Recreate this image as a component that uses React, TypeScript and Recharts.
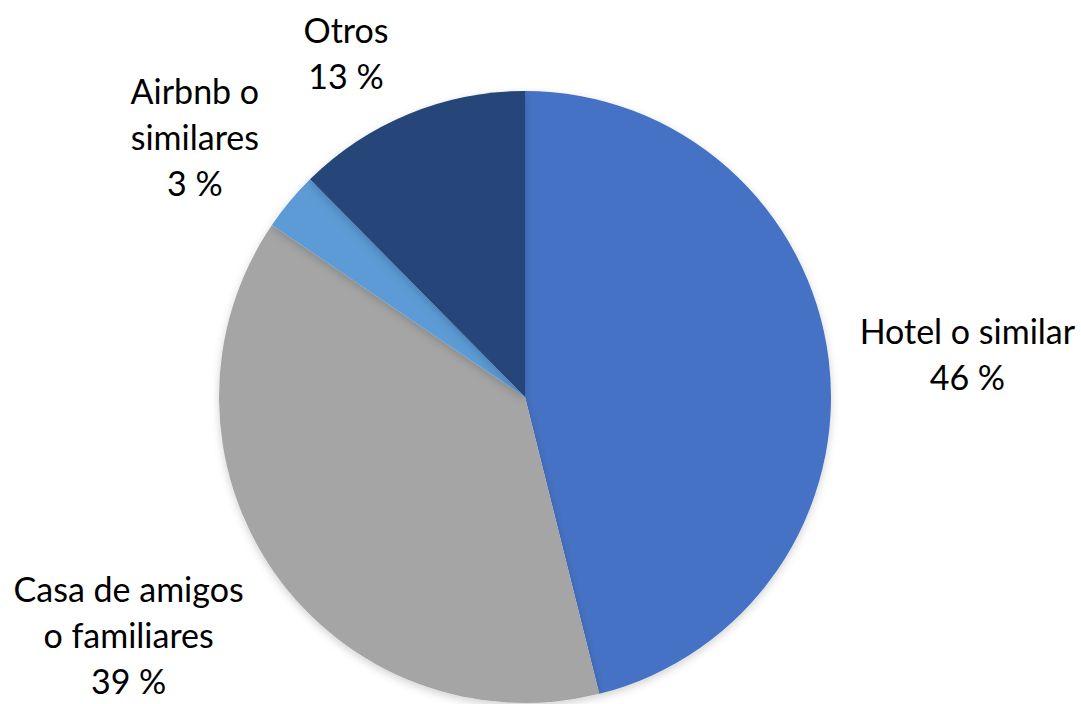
import { Cell, Pie, PieChart } from "recharts";

const categories = ["Hotel o similar", "Casa de amigos o familiares", "Airbnb o similares", "Otros"];
const shares = [46.1, 38.4, 3.1, 12.4];
const pctLabels = ["46 %", "39 %", "3 %", "13 %"];
const labelLines = [
  ["Hotel o similar"],
  ["Casa de amigos", "o familiares"],
  ["Airbnb o", "similares"],
  ["Otros"],
];
const colors = ["#4472C4", "#A5A5A5", "#5B9BD5", "#264478"];

const data = categories.map((name, i) => ({ name, value: shares[i] }));

// label distance from centre (relative to outer radius) and small nudges, per slice
const labelPlace = [
  { k: 1.45, dx: 2, dy: 10 },
  { k: 1.5, dx: -20, dy: -26 },
  { k: 1.34, dx: -15, dy: 1 },
  { k: 1.17, dx: -43, dy: -14 },
];

const RAD = Math.PI / 180;

function renderLabel(props: any) {
  const { cx, cy, midAngle, outerRadius, index } = props;
  const p = labelPlace[index];
  const r = outerRadius * p.k;
  const x = cx + r * Math.cos(-midAngle * RAD) + p.dx;
  const y = cy + r * Math.sin(-midAngle * RAD) + p.dy;
  const lines = [...labelLines[index], pctLabels[index]];
  const lh = 46;
  const top = y - ((lines.length - 1) * lh) / 2;
  return (
    <text
      key={index}
      x={x}
      y={top}
      textAnchor="middle"
      dominantBaseline="central"
      fill="#000"
      fontSize={34}
      fontFamily="Lato, 'Open Sans', sans-serif"
    >
      {lines.map((t, j) => (
        <tspan key={j} x={x} y={top + j * lh}>
          {t}
        </tspan>
      ))}
    </text>
  );
}

export default function App() {
  return (
    <div style={{ position: "absolute", left: 0, top: 0, background: "#fff" }}>
      <PieChart width={1081} height={704}>
        <defs>
          <filter id="sh" x="-10%" y="-10%" width="120%" height="120%">
            <feDropShadow dx="0" dy="3" stdDeviation="4" floodColor="#000" floodOpacity="0.18" />
          </filter>
        </defs>
        <Pie
          data={data}
          dataKey="value"
          nameKey="name"
          cx={520}
          cy={392}
          outerRadius={306}
          startAngle={90}
          endAngle={-270}
          stroke="none"
          label={renderLabel}
          labelLine={false}
          isAnimationActive={false}
          style={{ filter: "url(#sh)" }}
        >
          {data.map((d, i) => (
            <Cell key={d.name} fill={colors[i]} />
          ))}
        </Pie>
      </PieChart>
    </div>
  );
}
